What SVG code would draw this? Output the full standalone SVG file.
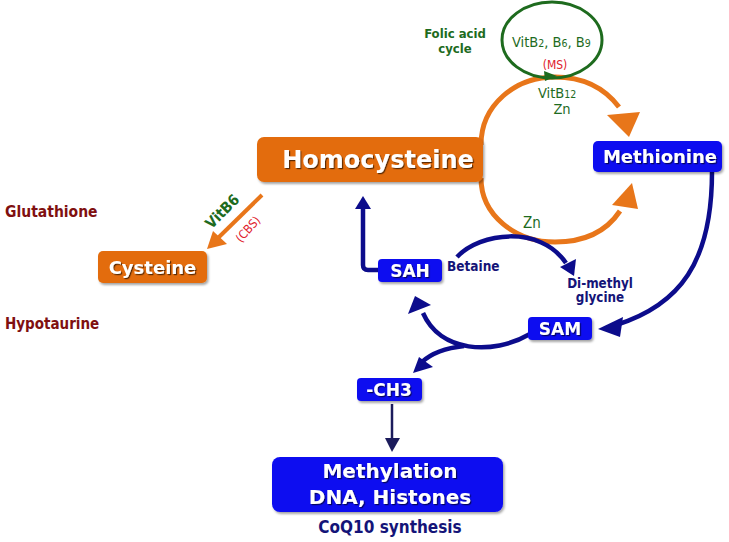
<svg xmlns="http://www.w3.org/2000/svg" width="729" height="542" viewBox="0 0 729 542">
<defs>
<filter id="sh" x="-10%" y="-20%" width="130%" height="150%">
<feDropShadow dx="1.5" dy="2" stdDeviation="1.2" flood-color="#000" flood-opacity="0.35"/>
</filter>
<filter id="tsh" x="-10%" y="-20%" width="130%" height="150%">
<feDropShadow dx="1.2" dy="1.2" stdDeviation="0.6" flood-color="#000" flood-opacity="0.6"/>
</filter>
</defs>
<style>
.ob{fill:#E36C0A}
.bb{fill:#0A0AF0}
.lbl{font-family:"DejaVu Sans",Verdana,sans-serif;font-weight:bold;fill:#fff;text-anchor:middle}
.or{fill:none;stroke:#E8761A;stroke-width:5}
.oh{fill:#E8761A}
.nv{fill:none;stroke:#0C0C8C;stroke-width:4.5}
.nh{fill:#0C0C8C}
.c{font-family:"DejaVu Sans Condensed","DejaVu Sans",Tahoma,sans-serif;font-stretch:condensed}
.g{fill:#1E6B1E}
.r{fill:#E0202A}
.dr{font-weight:bold;fill:#7F1010}
.nt{font-weight:bold;fill:#141478}
</style>
<rect width="729" height="542" fill="#fff"/>
<g id="connectors">
<path class="or" d="M481 145 C481 105 515 77 555 77 C585 77 606 90 619 107"/>
<polygon class="oh" points="607,115 640,112 629,137"/>
<path class="or" d="M481 178 C481 215 515 242 555 242 C585 242 606 232 620 211"/>
<polygon class="oh" points="612,205 638,209 632,183"/>
<line x1="262" y1="195" x2="218" y2="238" stroke="#E8761A" stroke-width="4"/>
<polygon class="oh" points="207,249 213,231 227,244"/>
<path class="nv" d="M712 172 C712 262 680 305 616 325"/>
<polygon class="nh" points="598,329 623,317 620,337"/>
<path class="nv" d="M457 257 C480 232 540 225 566 263"/>
<polygon class="nh" points="560,267 576,259 574,276"/>
<path class="nv" d="M378 270 L368 270 Q363 270 363 265 L363 206"/>
<polygon class="nh" points="355,209 371,209 363,196"/>
<path class="nv" d="M530 334 C492 356 440 352 423 313"/>
<polygon class="nh" points="415,296 408,314 431,305"/>
<path class="nv" d="M464 346 Q436 349 422 362"/>
<polygon class="nh" points="413,373 419,357 433,367"/>
<line x1="392" y1="404" x2="392" y2="440" stroke="#1C1C5C" stroke-width="2.5"/>
<polygon fill="#1C1C5C" points="385,438 400,438 392,452"/>
<ellipse cx="552" cy="40" rx="50" ry="38" fill="none" stroke="#1E6B1E" stroke-width="3"/>
<polygon fill="#1E6B1E" points="544,71 557,76 545,81"/>
</g>
<g id="homocysteine">
<rect class="ob" x="257" y="137" width="226" height="45" rx="7" filter="url(#sh)"/>
<text class="lbl" x="378" y="168" font-size="24" filter="url(#tsh)">Homocysteine</text>
</g>
<g id="methionine">
<rect class="bb" x="593" y="141" width="129" height="31" rx="5" filter="url(#sh)"/>
<text class="lbl" x="660" y="163" font-size="18" filter="url(#tsh)">Methionine</text>
</g>
<g id="cysteine">
<rect class="ob" x="98" y="251" width="109" height="32" rx="5" filter="url(#sh)"/>
<text class="lbl" x="152.5" y="273.5" font-size="18" filter="url(#tsh)">Cysteine</text>
</g>
<g id="sah">
<rect class="bb" x="378" y="259" width="64" height="23" rx="4" filter="url(#sh)"/>
<text class="lbl" x="410" y="277" font-size="17" filter="url(#tsh)">SAH</text>
</g>
<g id="sam">
<rect class="bb" x="528" y="317" width="64" height="23" rx="4" filter="url(#sh)"/>
<text class="lbl" x="560" y="335" font-size="17" filter="url(#tsh)">SAM</text>
</g>
<g id="ch3">
<rect class="bb" x="357" y="378" width="65" height="23" rx="4" filter="url(#sh)"/>
<text class="lbl" x="389" y="396" font-size="17" filter="url(#tsh)">-CH3</text>
</g>
<g id="methylation">
<rect class="bb" x="272" y="457" width="231" height="55" rx="8" filter="url(#sh)"/>
<text class="lbl" x="390" y="478" font-size="20" filter="url(#tsh)">Methylation</text>
<text class="lbl" x="390" y="504" font-size="20" filter="url(#tsh)">DNA, Histones</text>
</g>
<g id="labels">
<text class="c nt" x="390" y="533" font-size="17" text-anchor="middle">CoQ10 synthesis</text>
<text class="c dr" x="5" y="217" font-size="15.5">Glutathione</text>
<text class="c dr" x="5" y="329" font-size="15">Hypotaurine</text>
<text class="c nt" x="447" y="271" font-size="13.5">Betaine</text>
<text class="c nt" x="600" y="288" font-size="13.3" text-anchor="middle">Di-methyl</text>
<text class="c nt" x="600" y="302" font-size="13.3" text-anchor="middle">glycine</text>
<text class="c g" x="455" y="37.5" font-size="13" font-weight="bold" text-anchor="middle">Folic acid</text>
<text class="c g" x="455" y="53" font-size="13" font-weight="bold" text-anchor="middle">cycle</text>
<text class="c g" x="512" y="47" font-size="14.5">VitB<tspan font-size="10.5">2</tspan>, B<tspan font-size="10.5">6</tspan>, B<tspan font-size="10.5">9</tspan></text>
<text class="c r" x="555" y="69" font-size="12" text-anchor="middle">(MS)</text>
<text class="c g" x="538" y="98" font-size="14.5">VitB<tspan font-size="10.5">12</tspan></text>
<text class="c g" x="562" y="114" font-size="14.5" text-anchor="middle">Zn</text>
<text class="c g" x="532" y="228" font-size="15" text-anchor="middle">Zn</text>
<text class="c g" x="0" y="0" font-size="15" font-weight="bold" text-anchor="middle" transform="translate(226,215) rotate(-45)">VitB6</text>
<text class="c r" x="0" y="0" font-size="12" text-anchor="middle" transform="translate(251,232) rotate(-48)">(CBS)</text>
</g>
</svg>
